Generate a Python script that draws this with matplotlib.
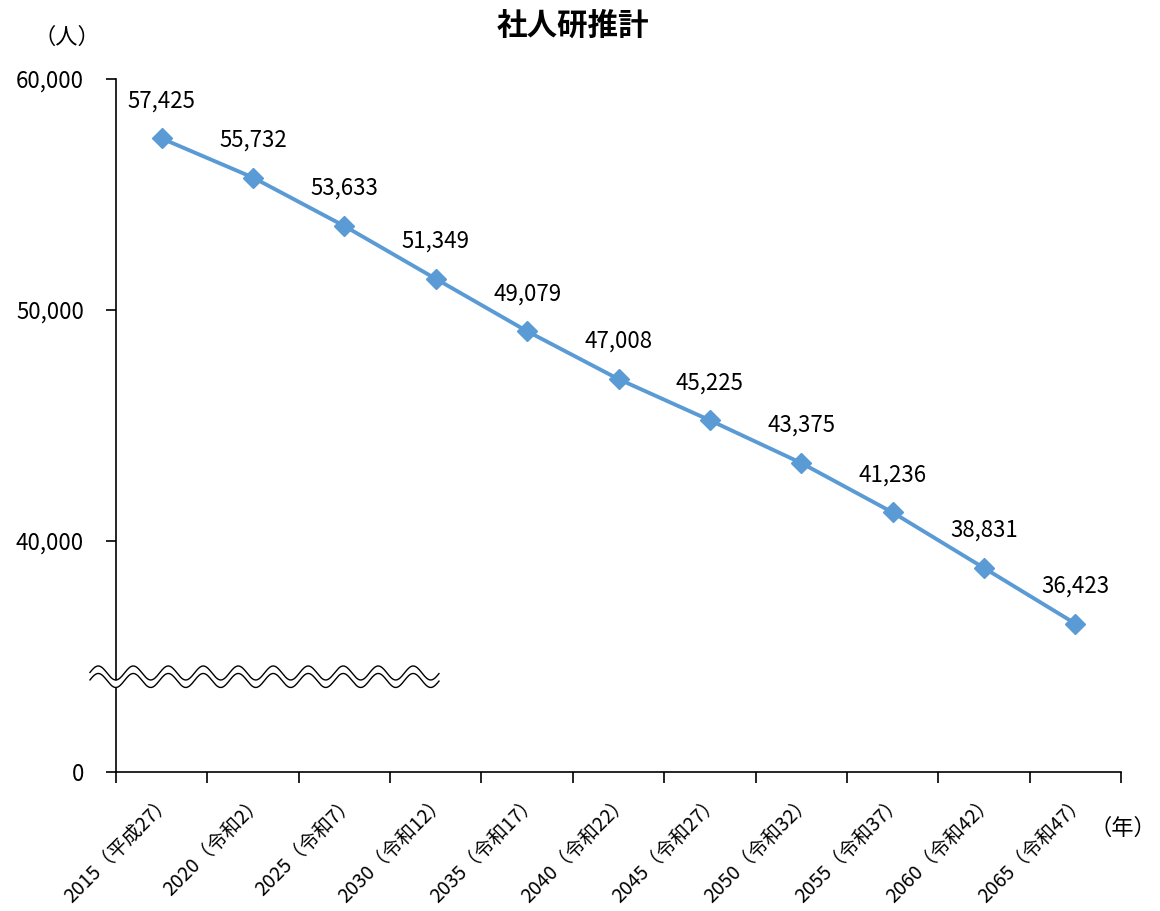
import numpy as np
import matplotlib
matplotlib.use("Agg")
import matplotlib.pyplot as plt

plt.rcParams['font.family'] = ['Noto Sans CJK JP', 'DejaVu Sans']

# data
years = ["2015（平成27）", "2020（令和2）", "2025（令和7）", "2030（令和12）",
         "2035（令和17）", "2040（令和22）", "2045（令和27）", "2050（令和32）",
         "2055（令和37）", "2060（令和42）", "2065（令和47）"]
population = [57425, 55732, 53633, 51349, 49079, 47008, 45225, 43375,
              41236, 38831, 36423]
ytick_values = [30000, 40000, 50000, 60000]
ytick_labels = ["0", "40,000", "50,000", "60,000"]

LINE_COLOR = "#5B9BD5"


def draw_break(ax, x0, x1, centers, amp, period, x_peak):
    # wavy "axis break" marks drawn over the lower part of the axis
    xs = np.linspace(x0, x1, 600)
    waves = [c + amp * np.cos(2 * np.pi * (xs - x_peak) / period) for c in centers]
    ax.fill_between(xs, waves[0], waves[1], color="white", zorder=5, clip_on=False, lw=0)
    for w in waves:
        ax.plot(xs, w, color="black", lw=1.0, zorder=6, clip_on=False)


def main():
    fig = plt.figure(figsize=(11.6, 9.11), dpi=100)
    ax = fig.add_axes([0.1, 0.1526, 0.8664, 0.7607])

    x = np.arange(len(years))
    ax.plot(x, population, color=LINE_COLOR, lw=2.8, marker="D", markersize=10,
            zorder=4)

    for xi, v in zip(x, population):
        ax.annotate(f"{v:,}", (xi, v), xytext=(0, 27), textcoords="offset points",
                    ha="center", va="center", fontsize=16)

    ax.set_xlim(-0.5, len(years) - 0.5)
    ax.set_ylim(30000, 60000)

    # ticks on category boundaries, labels at category centres
    ax.set_xticks(np.arange(len(years) + 1) - 0.5)
    ax.set_xticklabels([])
    ax.set_xticks(x, minor=True)
    ax.set_xticklabels(years, minor=True, rotation=45, ha="right", va="top",
                       rotation_mode="anchor", fontsize=14)
    ax.tick_params(axis="x", which="major", direction="out", length=8, width=1.2)
    ax.tick_params(axis="x", which="minor", length=0, pad=14)

    ax.set_yticks(ytick_values)
    ax.set_yticklabels(ytick_labels, fontsize=16)
    ax.tick_params(axis="y", direction="out", length=7, width=1.2, pad=16)

    for side in ["top", "right"]:
        ax.spines[side].set_visible(False)
    for side in ["left", "bottom"]:
        ax.spines[side].set_linewidth(1.2)
        ax.spines[side].set_color("black")

    draw_break(ax, -0.785, 3.035, [34286, 33961], 303, 0.383, -0.694)

    fig.text(0.494, 0.972, "社人研推計", ha="center", va="center", fontsize=22,
             fontweight="bold")
    fig.text(0.058, 0.959, "（人）", ha="center", va="center", fontsize=16)
    fig.text(0.968, 0.091, "（年）", ha="center", va="center", fontsize=16)

    fig.savefig("out.png", dpi=100)
    plt.close(fig)


if __name__ == "__main__":
    main()
